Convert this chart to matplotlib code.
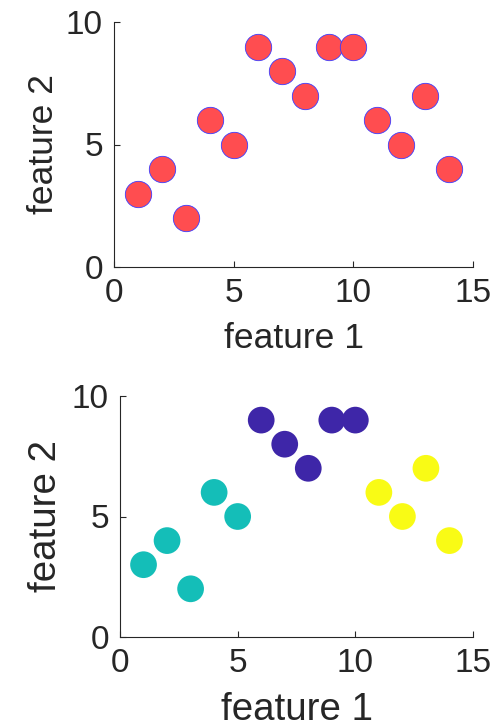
import matplotlib
matplotlib.use("Agg")
import matplotlib.pyplot as plt
import numpy as np

plt.rcParams["font.family"] = ["Liberation Sans", "DejaVu Sans"]

feature1 = [1, 2, 3, 4, 5, 6, 7, 8, 9, 10, 11, 12, 13, 14]
feature2 = [3, 4, 2, 6, 5, 9, 8, 7, 9, 9, 6, 5, 7, 4]
cluster = [1, 1, 1, 1, 1, 0, 0, 0, 0, 0, 2, 2, 2, 2]
cluster_colors = ["#3E26A8", "#14BEB8", "#F9FB15"]
x_ticks = [0, 5, 10, 15]
y_ticks = [0, 5, 10]


def style_axes(ax, label_size, ylabelpad):
    ax.set_xlim(0, 15)
    ax.set_ylim(0, 10)
    ax.set_xticks(x_ticks)
    ax.set_yticks(y_ticks)
    ax.spines["top"].set_visible(False)
    ax.spines["right"].set_visible(False)
    for side in ["left", "bottom"]:
        ax.spines[side].set_color("#262626")
        ax.spines[side].set_linewidth(0.8)
    ax.tick_params(direction="in", length=4, width=0.8, colors="#262626",
                   labelsize=24, pad=8)
    ax.set_xlabel("feature 1", fontsize=label_size, color="#262626", labelpad=9)
    ax.set_ylabel("feature 2", fontsize=label_size, color="#262626",
                  labelpad=ylabelpad)


fig = plt.figure(figsize=(4.98, 7.23), dpi=100)
W, H = 498, 723
ax1 = fig.add_axes([114 / W, 1 - 267 / H, (473 - 114) / W, (267 - 22) / H])
ax2 = fig.add_axes([120 / W, 1 - 637 / H, (473 - 120) / W, (637 - 396) / H])

ax1.scatter(feature1, feature2, s=360, c="#FF4D50", edgecolors="#3B3BFF",
            linewidths=0.6, clip_on=False, zorder=3)
style_axes(ax1, 25.5, 4)

colors = [cluster_colors[k] for k in cluster]
ax2.scatter(feature1, feature2, s=370, c=colors, edgecolors="none",
            clip_on=False, zorder=3)
style_axes(ax2, 27.7, 6)

fig.savefig("out.png", dpi=100)
